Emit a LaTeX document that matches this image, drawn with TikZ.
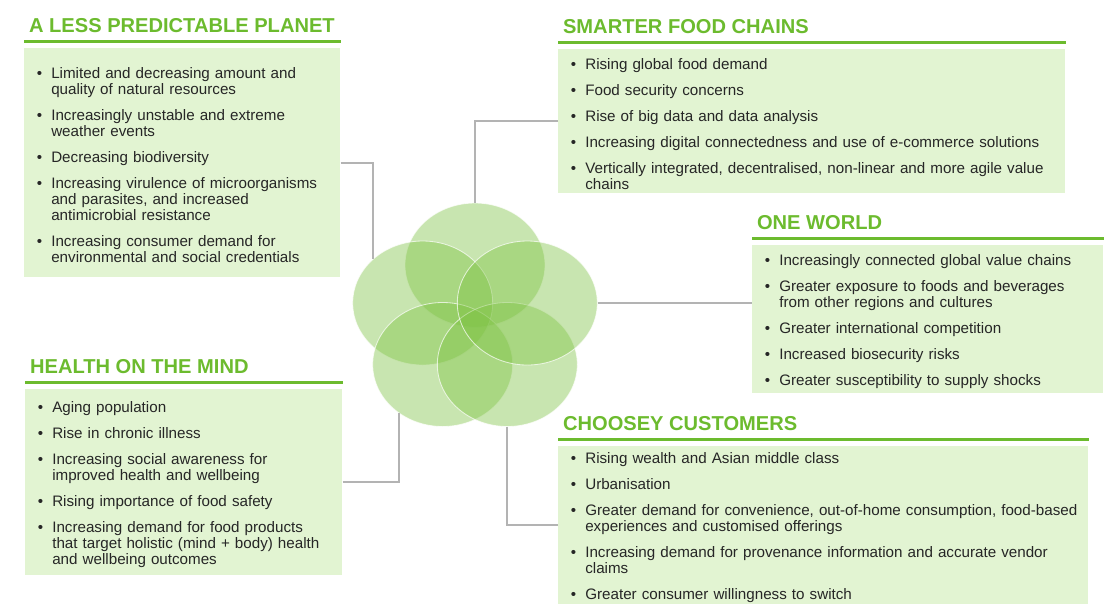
\documentclass[tikz,border=0pt]{standalone}
\usepackage{fontspec}
\setmainfont{Liberation Sans}
\usetikzlibrary{positioning,shapes.geometric}
\definecolor{leafGreen}{HTML}{6CBB2E}
\definecolor{paleGreen}{HTML}{E2F4D2}
\definecolor{petalGreen}{HTML}{7DC242}
\definecolor{inkGray}{HTML}{262626}
\definecolor{wireGray}{HTML}{B3B3B3}
\newenvironment{trendlist}{\begin{list}{\textbullet}{%
    \setlength{\leftmargin}{0.675cm}\setlength{\labelsep}{0.225cm}%
    \setlength{\labelwidth}{0.45cm}\setlength{\itemsep}{7.1pt}%
    \setlength{\parsep}{0pt}\setlength{\topsep}{0pt}\setlength{\partopsep}{0pt}}%
  \raggedright}{\end{list}}

\begin{document}
\begin{tikzpicture}[
  trendbox/.style={fill=paleGreen, anchor=north west, inner sep=0pt,
                   text=inkGray, font=\fontsize{10.8}{11.4}\selectfont},
  trendtitle/.style={font=\fontsize{14.3}{16}\selectfont\bfseries, text=leafGreen,
                     inner sep=0pt},
  titlerule/.style={draw=leafGreen, line width=1.8pt},
  petal/.style={ellipse, minimum width=3.5cm, minimum height=3.1cm, inner sep=0pt,
                fill=petalGreen, fill opacity=0.42, draw=white, draw opacity=0.7,
                line width=0.6pt},
  wire/.style={draw=wireGray, line width=1.2pt}
]
\useasboundingbox (0,0) rectangle (28,-15.375);

% a less predictable planet
\node[trendbox, text width=7.9cm, minimum height=5.725cm] (planet) at (0.6,-1.2) {%
\begin{trendlist}
\item Limited and decreasing amount and\newline quality of natural resources
\item Increasingly unstable and extreme\newline weather events
\item Decreasing biodiversity
\item Increasing virulence of microorganisms\newline and parasites, and increased\newline antimicrobial resistance
\item Increasing consumer demand for\newline environmental and social credentials
\end{trendlist}};
\node[trendtitle, above right=0.375cm and 0.12cm of planet.north west] {A LESS PREDICTABLE PLANET};
\draw[titlerule] ([yshift=0.16cm]planet.north west) -- ([yshift=0.16cm]planet.north east);

% smarter food chains
\node[trendbox, text width=12.675cm, minimum height=3.6cm] (chains) at (13.95,-1.225) {%
\begin{trendlist}
\item Rising global food demand
\item Food security concerns
\item Rise of big data and data analysis
\item Increasing digital connectedness and use of e-commerce solutions
\item Vertically integrated, decentralised, non-linear and more agile value\newline chains
\end{trendlist}};
\node[trendtitle, above right=0.375cm and 0.12cm of chains.north west] {SMARTER FOOD CHAINS};
\draw[titlerule] ([yshift=0.16cm]chains.north west) -- ([yshift=0.16cm]chains.north east);

% one world
\node[trendbox, text width=8.775cm, minimum height=3.7cm] (world) at (18.8,-6.125) {%
\begin{trendlist}
\item Increasingly connected global value chains
\item Greater exposure to foods and beverages\newline from other regions and cultures
\item Greater international competition
\item Increased biosecurity risks
\item Greater susceptibility to supply shocks
\end{trendlist}};
\node[trendtitle, above right=0.375cm and 0.12cm of world.north west] {ONE WORLD};
\draw[titlerule] ([yshift=0.16cm]world.north west) -- ([yshift=0.16cm]world.north east);

% health on the mind
\node[trendbox, text width=7.925cm, minimum height=4.65cm] (health) at (0.625,-9.725) {%
\begin{trendlist}
\item Aging population
\item Rise in chronic illness
\item Increasing social awareness for\newline improved health and wellbeing
\item Rising importance of food safety
\item Increasing demand for food products\newline that target holistic (mind + body) health\newline and wellbeing outcomes
\end{trendlist}};
\node[trendtitle, above right=0.375cm and 0.12cm of health.north west] {HEALTH ON THE MIND};
\draw[titlerule] ([yshift=0.16cm]health.north west) -- ([yshift=0.16cm]health.north east);

% choosey customers
\node[trendbox, text width=13.25cm, minimum height=3.95cm] (custom) at (13.95,-11.15) {%
\begin{trendlist}
\item Rising wealth and Asian middle class
\item Urbanisation
\item Greater demand for convenience, out-of-home consumption, food-based\newline experiences and customised offerings
\item Increasing demand for provenance information and accurate vendor\newline claims
\item Greater consumer willingness to switch
\end{trendlist}};
\node[trendtitle, above right=0.375cm and 0.12cm of custom.north west] {CHOOSEY CUSTOMERS};
\draw[titlerule] ([yshift=0.16cm]custom.north west) -- ([yshift=0.16cm]custom.north east);

% flower
\coordinate (hub) at (11.875,-8.0);
\foreach \ang/\nm in {90/ptop,162/pleft,234/pbotl,306/pbotr,18/pright}
  \node[petal] (\nm) at ([shift={(\ang:1.375)}]hub) {};

% connectors
\draw[wire] (planet.east) -| (pleft.138);
\draw[wire] (chains.west) -| (ptop.north);
\draw[wire] (pright.east) -- (pright.east -| world.west);
\draw[wire] (health.east) -| (pbotl.228);
\draw[wire] (custom.west) -| (pbotr.south);
\end{tikzpicture}
\end{document}
